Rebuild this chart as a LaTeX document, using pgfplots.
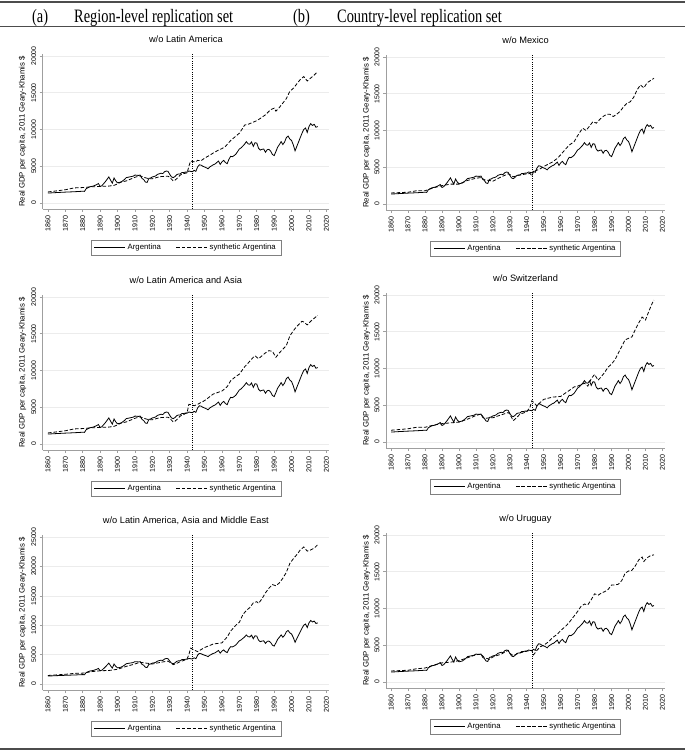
\documentclass[border=0pt]{standalone}
\usepackage{pgfplots}
\usepackage{pgfplotstable}
\pgfplotsset{compat=1.18}
\usepackage{fontspec}
\setmainfont{Liberation Sans}
\newfontfamily\timesf[FakeStretch=0.76]{Liberation Serif}

\pgfplotstableread{
year val
1860 1350
1865 1420
1870 1480
1875 1530
1880 1600
1881 1580
1882 1950
1884 2200
1886 2300
1888 2500
1889 2650
1890 2250
1891 2350
1893 2900
1895 3550
1896 3100
1897 2700
1898 3400
1899 3000
1900 2750
1902 2850
1904 3200
1905 3450
1907 3550
1909 3650
1910 3800
1912 3750
1913 3800
1914 3350
1915 3200
1916 2850
1917 2800
1918 3350
1919 3400
1920 3550
1921 3600
1922 3700
1923 3900
1925 4050
1926 4000
1927 4250
1928 4350
1929 4300
1930 3900
1931 3550
1932 3450
1933 3600
1934 3850
1935 3950
1936 3950
1937 4150
1938 4150
1939 4200
1940 4200
1941 4350
1942 4300
1943 4250
1944 4450
1945 4300
1946 4900
1947 5200
1948 5150
1949 5000
1950 4900
1951 4800
1952 4650
1953 4900
1954 5050
1955 5200
1956 5300
1957 5500
1958 5700
1959 5250
1960 5600
1961 5800
1962 5500
1963 5350
1964 5950
1965 6350
1966 6300
1967 6450
1968 6650
1969 7000
1970 7350
1971 7500
1972 7750
1973 8000
1974 8350
1975 8050
1976 8000
1977 8300
1978 7700
1979 8200
1980 8150
1981 7450
1982 7200
1983 7300
1984 7350
1985 6900
1986 7250
1987 7300
1988 7050
1989 6600
1990 6450
1991 7000
1992 7600
1993 7950
1994 8350
1995 7950
1996 8300
1997 8900
1998 9100
1999 8700
2000 8500
2001 7900
2002 7100
2003 7700
2004 8300
2005 8900
2006 9500
2007 10000
2008 10200
2009 9600
2010 10400
2011 10800
2012 10550
2013 10700
2014 10300
2015 10400
}\argtab

\pgfplotstableread{
year val
1860 1500
1865 1650
1870 1800
1875 2050
1880 2100
1885 2200
1890 2250
1895 2300
1898 2400
1900 2600
1902 2850
1905 3000
1908 3300
1910 3500
1913 3700
1915 3500
1918 3300
1920 3300
1923 3500
1925 3600
1929 3650
1930 3500
1932 3000
1933 3100
1934 3300
1936 3800
1938 4000
1940 4100
1941 5000
1942 5700
1944 5600
1945 5600
1946 5800
1948 5750
1950 6100
1953 6500
1955 6800
1958 7200
1960 7400
1962 7700
1965 8500
1967 8900
1970 9500
1972 10200
1973 10600
1975 10700
1978 11000
1980 11200
1982 11500
1985 12000
1988 12700
1990 12900
1991 12500
1993 13000
1995 13600
1997 14200
1999 15200
2001 15600
2003 16200
2005 16800
2007 17200
2009 16600
2011 17000
2013 17400
2015 17900
}\synA

\pgfplotstableread{
year val
1860 1500
1865 1650
1870 1800
1875 2050
1880 2100
1885 2200
1890 2250
1895 2300
1898 2400
1900 2600
1902 2850
1905 3000
1908 3300
1910 3500
1913 3700
1915 3500
1918 3300
1920 3300
1923 3500
1925 3600
1929 3650
1930 3500
1932 3000
1933 3100
1934 3300
1936 3800
1938 4000
1940 4300
1941 5400
1943 5300
1944 5200
1946 5400
1950 5900
1955 6800
1960 7200
1963 7800
1965 8600
1968 9200
1970 9500
1973 10500
1975 11000
1978 11800
1979 12000
1981 11600
1983 12000
1985 12400
1987 12700
1989 12600
1991 11800
1993 12400
1995 12900
1997 13400
1999 14700
2001 15400
2003 16000
2006 16700
2007 16600
2009 16200
2011 16700
2013 17100
2015 17500
}\synB

\pgfplotstableread{
year val
1860 1450
1865 1550
1870 1650
1875 1800
1880 1850
1885 2100
1890 2250
1895 2300
1900 2500
1905 3000
1910 3400
1913 3700
1915 3600
1918 3500
1920 3400
1925 3700
1929 3900
1930 3700
1932 3300
1934 3500
1936 3800
1938 4000
1940 4300
1941 5000
1942 6100
1944 5800
1946 5500
1950 6200
1955 6800
1960 7000
1963 8000
1965 9000
1968 10000
1970 10500
1972 11800
1974 12500
1976 13000
1978 13800
1980 14000
1981 13700
1983 14500
1985 15500
1987 16300
1989 16900
1991 16700
1993 17200
1995 18000
1997 19000
1999 20500
2001 21300
2003 22000
2005 22800
2007 23300
2009 22600
2011 22800
2013 23100
2015 23700
}\synC

\pgfplotstableread{
year val
1860 1500
1865 1550
1870 1600
1875 1800
1880 1800
1885 2200
1890 2500
1895 2700
1900 2700
1905 3200
1910 3500
1913 3600
1915 3300
1918 3200
1920 3100
1925 3700
1929 4100
1930 4000
1932 3700
1935 3900
1940 4100
1942 4150
1943 3800
1944 4400
1946 4600
1948 4800
1950 5100
1955 5700
1958 6200
1960 6700
1963 7500
1965 8000
1968 8500
1970 9300
1972 10000
1973 10300
1975 10000
1977 10600
1979 11200
1981 11000
1983 11500
1985 11900
1987 12200
1989 12200
1991 11900
1993 12200
1995 12600
1997 13200
1999 13700
2001 13900
2003 14500
2005 15500
2007 16200
2009 15800
2011 16500
2013 16800
2015 17100
}\synD

\pgfplotstableread{
year val
1860 1600
1870 1800
1875 2000
1880 2000
1885 2300
1890 2500
1895 2600
1900 2700
1905 3100
1910 3600
1913 3800
1915 3200
1918 3300
1920 3300
1925 3700
1929 4000
1930 3800
1932 2900
1934 3300
1936 3800
1940 4100
1942 4800
1943 5600
1944 5400
1946 4900
1948 5400
1950 5800
1955 6100
1960 6200
1963 6700
1965 7000
1968 7500
1970 7600
1972 7800
1974 8000
1976 7600
1978 8600
1980 9200
1982 8400
1984 8900
1986 9500
1988 10200
1990 10600
1992 11200
1994 12100
1996 13000
1998 13900
2000 14100
2002 14300
2004 15300
2006 16200
2008 17000
2010 16600
2012 17800
2014 18900
2015 19300
}\synE

\pgfplotstableread{
year val
1860 1500
1870 1600
1875 1800
1880 1900
1885 2300
1890 2600
1895 2700
1900 2900
1905 3300
1910 3700
1913 3800
1915 3300
1918 3100
1920 3400
1925 3800
1929 4300
1930 3900
1932 3600
1935 3900
1940 4200
1943 4300
1944 3700
1946 4300
1948 4800
1950 5000
1953 5500
1955 6000
1958 6500
1960 7000
1963 7600
1965 8100
1968 9000
1970 9600
1972 10300
1974 10600
1976 10500
1978 11200
1980 12000
1982 11800
1984 12100
1986 12300
1988 12600
1990 13200
1992 13200
1994 13300
1996 13800
1998 14800
2000 15100
2002 15200
2004 15800
2006 16600
2008 17000
2009 16400
2011 16900
2013 17200
2015 17300
}\synF

\pgfplotsset{
  panel/.style={
    scale only axis,
    height=155bp,
    xmin=1857, xmax=2021.5,
    ymin=-816, ymax=20270,
    axis x line*=bottom, axis y line*=left,
    axis line style={gray!75, line width=0.6bp},
    xtick={1860,1870,...,2020},
    ytick={0,5000,...,20000},
    scaled y ticks=false,
    tick align=outside,
    major tick length=3bp,
    tick style={gray!75, line width=0.6bp},
    ymajorgrids,
    grid style={gray!15, line width=0.6bp},
    /pgf/number format/assume math mode=true,
    /pgf/number format/1000 sep={},
    xticklabel style={rotate=90, anchor=east, font=\fontsize{7.1}{7.5}\selectfont},
    yticklabel style={rotate=90, anchor=south, font=\fontsize{6.9}{7.5}\selectfont},
    ylabel={Real GDP per capita, 2011 Geary-Khamis \$},
    every axis y label/.style={at={(axis description cs:-0.07,0.5)}, rotate=90, anchor=center, font=\fontsize{7.8}{8}\selectfont},
    title style={font=\fontsize{9.3}{10}\selectfont, at={(0.5,1)}, anchor=base, yshift=5.5bp},
    legend style={at={(0.5,-0.2)}, anchor=north, legend columns=2, draw=gray,
      font=\fontsize{7.8}{8}\selectfont, inner xsep=3bp, inner ysep=2bp,
      /tikz/every even column/.append style={column sep=13bp}},
    legend image code/.code={\draw[#1] (0bp,0bp) -- (31bp,0bp);},
  },
  arg/.style={black, line width=0.8bp},
  syn/.style={black, line width=0.8bp, dash pattern=on 3.6bp off 1.9bp},
  vl/.style={black, line width=0.5bp, dash pattern=on 1bp off 1.2bp, forget plot},
}

\begin{document}
\begin{tikzpicture}
\path[use as bounding box] (0,0) rectangle (685bp,751bp);
\draw[line width=1.5bp, gray!60!black] (0,749bp) -- (685bp,749bp);
\draw[line width=1.5bp, gray!60!black] (0,724.5bp) -- (685bp,724.5bp);
\draw[line width=1.5bp, gray!60!black] (0,2bp) -- (685bp,2bp);
\node[anchor=base west, inner sep=0, font=\timesf\fontsize{19}{20}\selectfont] at (32bp,728.3bp) {(a)};
\node[anchor=base west, inner sep=0, font=\timesf\fontsize{19}{20}\selectfont] at (74bp,728.3bp) {Region-level replication set};
\node[anchor=base west, inner sep=0, font=\timesf\fontsize{19}{20}\selectfont] at (293bp,728.3bp) {(b)};
\node[anchor=base west, inner sep=0, font=\timesf\fontsize{19}{20}\selectfont] at (337bp,728.3bp) {Country-level replication set};

% Left top
\begin{axis}[panel, width=286.3bp, at={(42.7bp,542bp)}, anchor=south west, title={w/o Latin America}]
\addplot[vl] coordinates {(1943,-816) (1943,20270)};
\addplot[arg] table[x=year,y=val] {\argtab};
\addplot[syn] table[x=year,y=val] {\synA};
\legend{Argentina, synthetic Argentina}
\end{axis}

% Right top
\begin{axis}[panel, width=279bp, at={(386bp,541bp)}, anchor=south west, title={w/o Mexico}]
\addplot[vl] coordinates {(1943,-816) (1943,20270)};
\addplot[arg] table[x=year,y=val] {\argtab};
\addplot[syn] table[x=year,y=val] {\synD};
\legend{Argentina, synthetic Argentina}
\end{axis}

% Left middle
\begin{axis}[panel, width=286.3bp, at={(42.7bp,301bp)}, anchor=south west, title={w/o Latin America and Asia}]
\addplot[vl] coordinates {(1943,-816) (1943,20270)};
\addplot[arg] table[x=year,y=val] {\argtab};
\addplot[syn] table[x=year,y=val] {\synB};
\legend{Argentina, synthetic Argentina}
\end{axis}

% Right middle
\begin{axis}[panel, width=279bp, at={(386bp,303bp)}, anchor=south west, title={w/o Switzerland}]
\addplot[vl] coordinates {(1943,-816) (1943,20270)};
\addplot[arg] table[x=year,y=val] {\argtab};
\addplot[syn] table[x=year,y=val] {\synE};
\legend{Argentina, synthetic Argentina}
\end{axis}

% Left bottom
\begin{axis}[panel, width=286.3bp, at={(42.7bp,61bp)}, anchor=south west, ymin=-1020, ymax=25340, ytick={0,5000,...,25000}, title={w/o Latin America, Asia and Middle East}]
\addplot[vl] coordinates {(1943,-1020) (1943,25340)};
\addplot[arg] table[x=year,y=val] {\argtab};
\addplot[syn] table[x=year,y=val] {\synC};
\legend{Argentina, synthetic Argentina}
\end{axis}

% Right bottom
\begin{axis}[panel, width=279bp, at={(386bp,63bp)}, anchor=south west, title={w/o Uruguay}]
\addplot[vl] coordinates {(1943,-816) (1943,20270)};
\addplot[arg] table[x=year,y=val] {\argtab};
\addplot[syn] table[x=year,y=val] {\synF};
\legend{Argentina, synthetic Argentina}
\end{axis}
\end{tikzpicture}
\end{document}
